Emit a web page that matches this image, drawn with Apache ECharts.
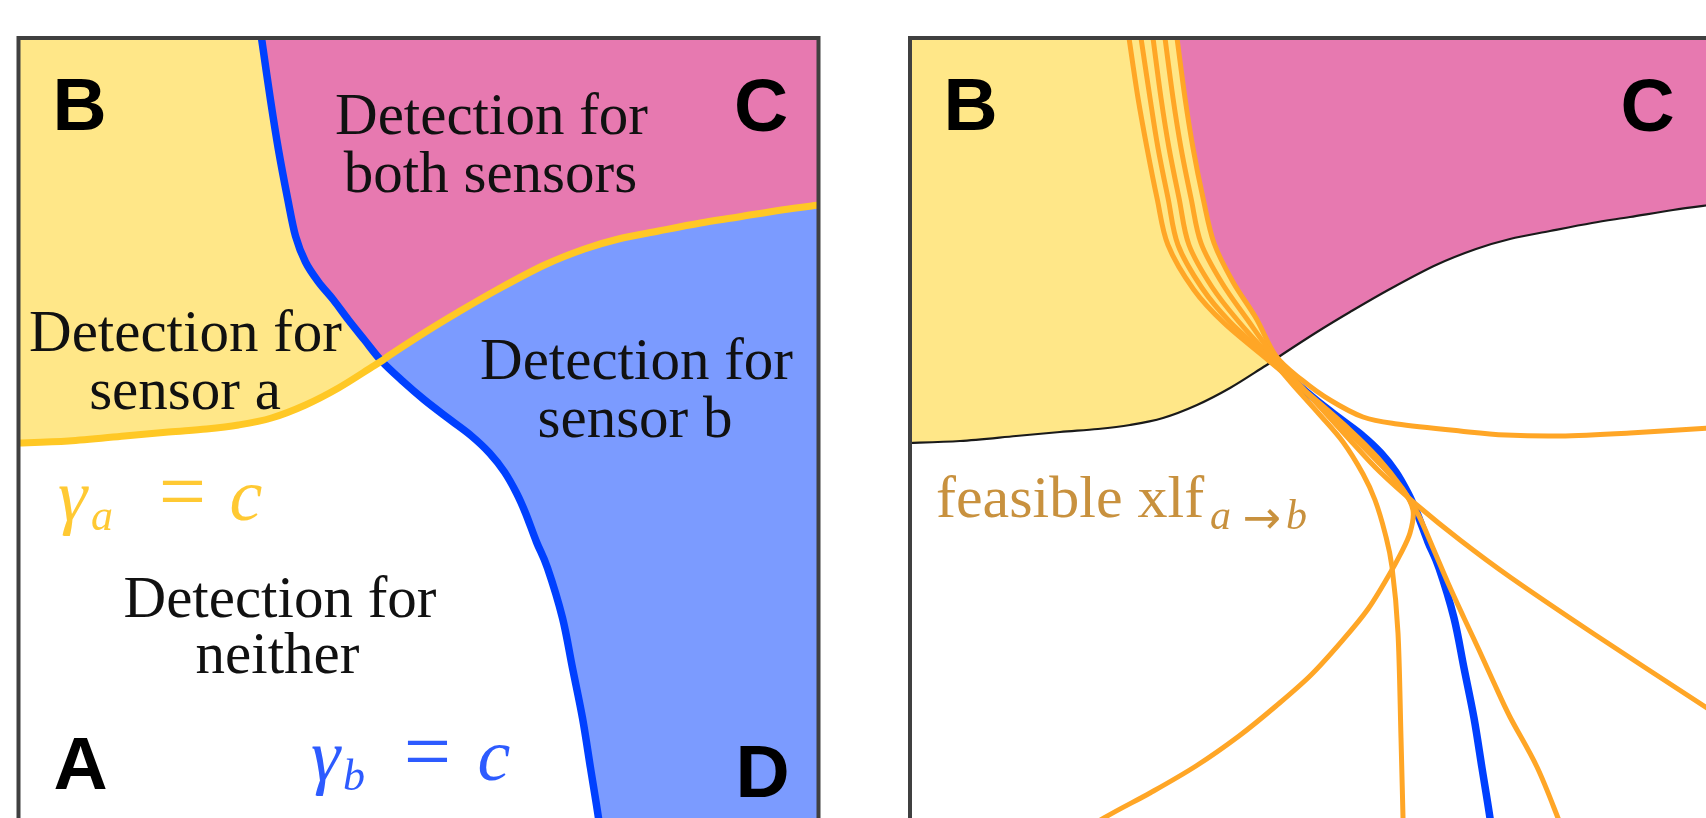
<!DOCTYPE html>
<html>
<head>
<meta charset="utf-8">
<script src="https://cdn.jsdelivr.net/npm/echarts@6/dist/echarts.min.js"></script>
<style>
html,body{margin:0;padding:0;background:#fff;overflow:hidden;width:1706px;height:818px;}
#chart{width:1720px;height:880px;}
</style>
</head>
<body>
<div id="chart"></div>
<script>
// ---- data (panel units: u to the right, v downwards) ----
const panelSize = [800, 820];
// gamma_b = c : detection threshold of sensor b
const blueCurve = [[243,0],[252,62],[260,112],[269,160],[277,198],[287,224],[300,244],[315,262],[330,282],[346,302],[363,323],[384,343],[406,362],[432,382],[453,398],[471,415],[486,434],[498,455],[507,475],[518,504],[529,530],[544,580],[554,630],[564,680],[572,730],[580,780],[585,820]];
// gamma_a = c : detection threshold of sensor a
const yellowCurve = [[0,405],[50,403],[106,398],[150,394],[188,391],[220,387],[253,380],[287,367],[320,350],[352,330],[363,323],[373,316],[407,294],[440,274],[480,251],[526,227],[566,211],[600,201],[640,193],[682,185],[720,179],[763,172],[800,167]];
const crossing = [363,323];
// feasible xlf a->b curves
const xlf1 = [[267,0],[275,60],[283,110],[293,160],[304,205],[323,244],[346,280],[366,318],[392,342],[420,362],[453,379],[487,386],[550,393],[596,397],[650,398],[720,395],[800,390]];
const xlf2 = [[255,0],[263,60],[271,110],[281,160],[291,205],[312,245],[337,281],[364,318],[400,358],[440,402],[470,434],[508,468],[550,502],[600,539],[684,596],[800,672]];
const xlf3 = [[243,0],[251,60],[259,110],[269,160],[279,207],[302,249],[329,284],[362,320],[398,356],[436,392],[468,424],[493,452],[503,472],[500,495],[490,517],[479,537],[458,571],[432,603],[401,637],[366,668],[329,698],[286,728],[240,755],[194,780],[130,820]];
const xlf4 = [[231,0],[240,60],[248,110],[258,160],[268,207],[292,250],[320,284],[360,321],[384,348],[410,377],[433,404],[453,436],[465,462],[475,495],[482,529],[488,595],[491,700],[494,820]];
const xlf5 = [[219,0],[228,60],[237,110],[247,160],[258,207],[284,252],[314,285],[358,322],[400,357],[440,392],[468,420],[492,450],[508,476],[523,510],[538,545],[554,580],[569,612],[584,645],[600,679],[627,729],[648,780],[663,820]];

// ---- helpers ----
const C = {
  yellowFill:'#FFE788', pinkFill:'#E779B0', blueFill:'#7B9BFF',
  blueLine:'#0040FF', yellowLine:'#FFC825', orange:'#FFA626',
  black:'#1a1a1a', frame:'#404040'
};
function idxOf(arr, p){ return arr.findIndex(q => q[0]===p[0] && q[1]===p[1]); }
const bi = idxOf(blueCurve, crossing), yi = idxOf(yellowCurve, crossing);
const blueUpper = blueCurve.slice(0, bi+1);
const blueLower = blueCurve.slice(bi);
const yellowLeft = yellowCurve.slice(0, yi+1);
const yellowRight = yellowCurve.slice(yi);
const W = panelSize[0], H = panelSize[1];
const xlfUpper = xlf1.filter(p => p[1] < crossing[1]-20).concat([crossing]);
const yEnd = yellowCurve[yellowCurve.length-1];

function segs(px){
  let d='';
  for(let i=0;i<px.length-1;i++){
    const p0=px[Math.max(i-1,0)], p1=px[i], p2=px[i+1], p3=px[Math.min(i+2,px.length-1)];
    const t=1/6;
    d+=' C'+(p1[0]+(p2[0]-p0[0])*t)+','+(p1[1]+(p2[1]-p0[1])*t)+' '+(p2[0]-(p3[0]-p1[0])*t)+','+(p2[1]-(p3[1]-p1[1])*t)+' '+p2[0]+','+p2[1];
  }
  return d;
}
// edges: list of [points, curved]
function regionPath(api, edges){
  let d='';
  edges.forEach((e,k)=>{
    const px=e[0].map(p=>api.coord(p));
    if(k===0) d+='M'+px[0][0]+','+px[0][1];
    else d+=' L'+px[0][0]+','+px[0][1];
    if(e[1]) d+=segs(px);
    else for(let i=1;i<px.length;i++) d+=' L'+px[i][0]+','+px[i][1];
  });
  return d+' Z';
}
function curvePath(api, pts){
  const px=pts.map(p=>api.coord(p));
  return 'M'+px[0][0]+','+px[0][1]+segs(px);
}
const rev = a => a.slice().reverse();

function fillSeries(g, edges, color){
  return {type:'custom', coordinateSystem:'cartesian2d', xAxisIndex:g, yAxisIndex:g, clip:true, z:1, silent:true,
    data:[[0,0]],
    renderItem:(params, api)=>({type:'path', shape:{pathData:regionPath(api, edges)}, style:{fill:color, stroke:null}})};
}
function lineSeries(g, pts, color, width, z){
  return {type:'custom', coordinateSystem:'cartesian2d', xAxisIndex:g, yAxisIndex:g, clip:true, z:z, silent:true,
    data:[[0,0]],
    renderItem:(params, api)=>({type:'path', shape:{pathData:curvePath(api, pts)}, style:{fill:null, stroke:color, lineWidth:width, lineCap:'butt', lineJoin:'round'}})};
}
function frameSeries(g){
  return {type:'custom', coordinateSystem:'cartesian2d', xAxisIndex:g, yAxisIndex:g, clip:false, z:10, silent:true,
    data:[[0,0]],
    renderItem:(params, api)=>{
      const a=api.coord([0,0]), b=api.coord([W,H]);
      return {type:'rect', shape:{x:a[0], y:a[1], width:b[0]-a[0], height:b[1]-a[1]}, style:{fill:null, stroke:C.frame, lineWidth:4}};
    }};
}

const series = [
  // left panel
  fillSeries(0, [[[[0,0]],false],[blueUpper,true],[rev(yellowLeft),true]], C.yellowFill),
  fillSeries(0, [[[[W,0],[W,yEnd[1]]],false],[rev(yellowRight),true],[rev(blueUpper),true]], C.pinkFill),
  fillSeries(0, [[yellowRight,true],[[[W,H]],false],[rev(blueLower),true]], C.blueFill),
  lineSeries(0, blueCurve, C.blueLine, 7.5, 3),
  lineSeries(0, yellowCurve, C.yellowLine, 7, 4),
  frameSeries(0),
  // right panel
  fillSeries(1, [[[[0,0]],false],[xlfUpper,true],[rev(yellowLeft),true]], C.yellowFill),
  fillSeries(1, [[[[W,0],[W,yEnd[1]]],false],[rev(yellowRight),true],[rev(xlfUpper),true]], C.pinkFill),
  lineSeries(1, yellowCurve, C.black, 2.2, 3),
  lineSeries(1, blueLower, C.blueLine, 7.5, 3),
  lineSeries(1, xlf1, C.orange, 5, 4),
  lineSeries(1, xlf2, C.orange, 5, 4),
  lineSeries(1, xlf3, C.orange, 5, 4),
  lineSeries(1, xlf4, C.orange, 5, 4),
  lineSeries(1, xlf5, C.orange, 5, 4),
  frameSeries(1)
];

// ---- labels ----
const SERIF='"Liberation Serif"', SANS='"Liberation Sans"', DSANS='"DejaVu Sans"';
function txt(x, baseline, text, size, family, opts){
  opts=opts||{};
  const k = family===SERIF ? 0.3375 : 0.3465;
  const font=(opts.style||'normal')+' '+(opts.weight||'normal')+' '+size+'px '+family;
  const align=opts.align||'left';
  return {type:'text', x:x, y:baseline-k*size, z:100,
    style:{text:text, font:font, fill:opts.color||'#111', align:align, textAlign:align, verticalAlign:'middle', textVerticalAlign:'middle'}};
}
const L = 'bold', S = 59;
const graphics = [
  txt(52.5,135,'B',75,SANS,{weight:L,color:'#000'}),
  txt(761,136,'C',75,SANS,{weight:L,color:'#000',align:'center'}),
  txt(80.5,794,'A',75,SANS,{weight:L,color:'#000',align:'center'}),
  txt(762.5,802,'D',75,SANS,{weight:L,color:'#000',align:'center'}),
  txt(943.5,135,'B',75,SANS,{weight:L,color:'#000'}),
  txt(1647.5,136,'C',75,SANS,{weight:L,color:'#000',align:'center'}),

  txt(491.5,138,'Detection for',S,SERIF,{align:'center'}),
  txt(490.5,196,'both sensors',S,SERIF,{align:'center'}),
  txt(185.5,355,'Detection for',S,SERIF,{align:'center'}),
  txt(185,413,'sensor a',S,SERIF,{align:'center'}),
  txt(636.5,383,'Detection for',S,SERIF,{align:'center'}),
  txt(635,441,'sensor b',S,SERIF,{align:'center'}),
  txt(280,621,'Detection for',S,SERIF,{align:'center'}),
  txt(277.5,677,'neither',S,SERIF,{align:'center'}),

  txt(58,526,'γ',74,SERIF,{style:'italic',color:'#FFC933'}),
  txt(91,533,'a',44,SERIF,{style:'italic',color:'#FFC933'}),
  txt(182.5,526,'=',84,SERIF,{color:'#FFC933',align:'center'}),
  txt(246,526,'c',74,SERIF,{style:'italic',color:'#FFC933',align:'center'}),

  txt(311,786,'γ',74,SERIF,{style:'italic',color:'#2D5BFF'}),
  txt(343,793,'b',44,SERIF,{style:'italic',color:'#2D5BFF'}),
  txt(427.5,786,'=',84,SERIF,{color:'#2D5BFF',align:'center'}),
  txt(494,786,'c',74,SERIF,{style:'italic',color:'#2D5BFF',align:'center'}),

  txt(936,521,'feasible xlf',60,SERIF,{color:'#C8913E'}),
  txt(1210,532,'a',42,SERIF,{style:'italic',color:'#C8913E'}),
  txt(1262,537,'→',46,DSANS,{color:'#C8913E',align:'center'}),
  txt(1286,532,'b',42,SERIF,{style:'italic',color:'#C8913E'})
];

const chart = echarts.init(document.getElementById('chart'), null, {renderer:'canvas'});
chart.setOption({
  animation:false,
  backgroundColor:'#ffffff',
  grid:[
    {left:18.5, top:38, width:W, height:H, show:false},
    {left:910, top:38, width:W, height:H, show:false}
  ],
  xAxis:[
    {gridIndex:0, type:'value', min:0, max:W, show:false},
    {gridIndex:1, type:'value', min:0, max:W, show:false}
  ],
  yAxis:[
    {gridIndex:0, type:'value', min:0, max:H, inverse:true, show:false},
    {gridIndex:1, type:'value', min:0, max:H, inverse:true, show:false}
  ],
  series: series,
  graphic: graphics
});
</script>
</body>
</html>
